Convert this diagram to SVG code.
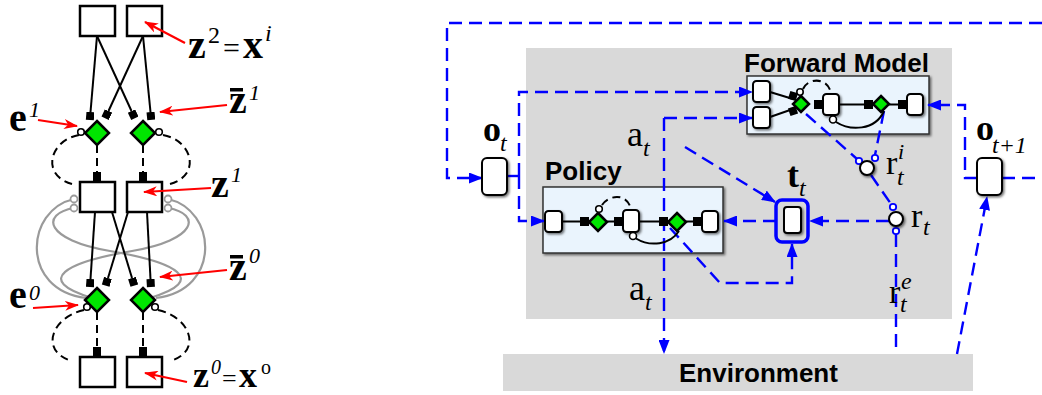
<svg xmlns="http://www.w3.org/2000/svg" width="1042" height="395" viewBox="0 0 1042 395">
<defs>
<style>
.bx{fill:#fff;stroke:#000;stroke-width:2.5}
.dm{fill:#00e600;stroke:#000;stroke-width:2.5}
.ln{stroke:#000;stroke-width:2;fill:none}
.lsq{stroke:#000;stroke-width:2;fill:none;marker-end:url(#sqm)}
.dk{stroke:#000;stroke-width:2;fill:none;stroke-dasharray:8 5}
.gr{stroke:#9a9a9a;stroke-width:2.2;fill:none}
.gc{fill:#fff;stroke:#9a9a9a;stroke-width:1.8}
.red{stroke:#f00;stroke-width:2.2;fill:none;marker-end:url(#ra)}
.bd{stroke:#00f;stroke-width:2.4;fill:none;stroke-dasharray:13 7}
.ba{marker-end:url(#ba)}
.sf{font-family:"Liberation Serif","Times New Roman",serif;fill:#000}
.b{font-weight:bold}
.i{font-style:italic}
.ss{font-family:"Liberation Sans",Arial,sans-serif;font-weight:bold;fill:#000}
.mb{fill:#eaf4fd;stroke:#333;stroke-width:1.5}
.rr{fill:#fff;stroke:#000;stroke-width:2}
.sc{fill:#fff;stroke:#000;stroke-width:1.6}
.bc{fill:#fff;stroke:#00f;stroke-width:1.8}
.nd{fill:#fff;stroke:#000;stroke-width:2}
</style>
<marker id="ra" markerUnits="userSpaceOnUse" markerWidth="14" markerHeight="10" refX="13" refY="5" orient="auto"><path d="M0,0 L14,5 L0,10 L4,5 z" fill="#f00"/></marker>
<marker id="ba" markerUnits="userSpaceOnUse" markerWidth="14" markerHeight="11" refX="13" refY="5.5" orient="auto"><path d="M0,0 L14,5.5 L0,11 z" fill="#00f"/></marker>
<marker id="sqm" markerUnits="userSpaceOnUse" markerWidth="9" markerHeight="9" refX="0" refY="4" orient="auto"><rect x="0" y="0" width="8" height="8" fill="#000"/></marker>
<filter id="sh" x="-30%" y="-30%" width="170%" height="170%"><feDropShadow dx="1.5" dy="1.5" stdDeviation="1" flood-color="#000" flood-opacity="0.55"/></filter>
</defs>
<rect width="1042" height="395" fill="#fff"/>

<!-- ===== Left diagram ===== -->
<g id="left-connectors">
  <path class="gr" d="M74,199 C25,210 20,290 86,298"/>
  <path class="gr" d="M74,208 C40,214 45,240 110,251 C175,262 210,280 150,298"/>
  <path class="gr" d="M168,199 C217,210 222,290 156,298"/>
  <path class="gr" d="M168,208 C202,214 197,240 132,251 C67,262 32,280 92,298"/>
  <path class="lsq" d="M97,36 L90.5,112"/>
  <path class="lsq" d="M97,36 L131.5,111"/>
  <path class="lsq" d="M143,36 L108.5,111"/>
  <path class="lsq" d="M143,36 L150.5,112"/>
  <path class="lsq" d="M95,212 L90.5,279"/>
  <path class="lsq" d="M112,212 L132,278"/>
  <path class="lsq" d="M128,212 L108,278"/>
  <path class="lsq" d="M147,212 L150.5,279"/>
  <path class="dk" d="M79,135 C50,140 40,175 72,184"/>
  <path class="dk" d="M163,135 C192,140 202,175 170,184"/>
  <path class="dk" d="M84,310 C50,318 40,352 72,361"/>
  <path class="dk" d="M158,310 C192,318 202,352 170,361"/>
  <path class="dk" d="M97,145 L97,172 M143,145 L143,172 M97,312 L97,348 M143,312 L143,348"/>
  <rect x="93" y="172" width="8" height="10" fill="#000"/>
  <rect x="139" y="172" width="8" height="10" fill="#000"/>
  <rect x="93" y="347" width="8" height="10" fill="#000"/>
  <rect x="139" y="347" width="8" height="10" fill="#000"/>
</g>
<g id="z2-left"><rect class="bx" x="80" y="6" width="35" height="30"/></g>
<g id="z2-right"><rect class="bx" x="127" y="6" width="35" height="30"/></g>
<g id="e1-left"><polygon class="dm" points="97,121 109,133 97,145 85,133"/><circle class="sc" cx="81" cy="132" r="3.3"/></g>
<g id="e1-right"><polygon class="dm" points="143,121 155,133 143,145 131,133"/><circle class="sc" cx="159" cy="132" r="3.3"/></g>
<g id="z1-left"><rect class="bx" x="80" y="182" width="35" height="30"/><circle class="gc" cx="74" cy="199" r="3.5"/><circle class="gc" cx="74" cy="208" r="3.5"/></g>
<g id="z1-right"><rect class="bx" x="127" y="182" width="35" height="30"/><circle class="gc" cx="168" cy="199" r="3.5"/><circle class="gc" cx="168" cy="208" r="3.5"/></g>
<g id="e0-left"><polygon class="dm" points="97,288 109,300 97,312 85,300"/><circle class="sc" cx="87" cy="307" r="3.3"/></g>
<g id="e0-right"><polygon class="dm" points="143,288 155,300 143,312 131,300"/><circle class="sc" cx="155" cy="307" r="3.3"/></g>
<g id="z0-left"><rect class="bx" x="80" y="357" width="35" height="30"/></g>
<g id="z0-right"><rect class="bx" x="127" y="357" width="35" height="30"/></g>

<g id="left-labels">
  <path class="red" d="M185,43 L145,22"/>
  <path class="red" d="M227,105 L160,112"/>
  <path class="red" d="M38,120 L77,126"/>
  <path class="red" d="M211,188 L144,192"/>
  <path class="red" d="M227,270 L160,277"/>
  <path class="red" d="M33,308 L78,305"/>
  <path class="red" d="M187,382 L145,373"/>
  <text class="sf b" x="188" y="58" font-size="40">z</text>
  <text class="sf" x="208" y="43" font-size="24">2</text>
  <text class="sf" x="223" y="58" font-size="30">=</text>
  <text class="sf b" x="243" y="58" font-size="40">x</text>
  <text class="sf i" x="265" y="41" font-size="24">i</text>

  <text class="sf b" x="229" y="113" font-size="40">z</text>
  <rect x="230" y="88" width="13" height="3.5" fill="#000"/>
  <text class="sf i" x="249" y="100" font-size="22">1</text>

  <text class="sf b" x="9" y="131" font-size="40">e</text>
  <text class="sf i" x="29" y="117" font-size="22">1</text>

  <text class="sf b" x="211" y="197" font-size="40">z</text>
  <text class="sf i" x="231" y="182" font-size="22">1</text>

  <text class="sf b" x="229" y="280" font-size="40">z</text>
  <rect x="230" y="255" width="13" height="3.5" fill="#000"/>
  <text class="sf i" x="249" y="263" font-size="22">0</text>

  <text class="sf b" x="9" y="308" font-size="40">e</text>
  <text class="sf i" x="29" y="300" font-size="22">0</text>

  <text class="sf b" x="193" y="387" font-size="36">z</text>
  <text class="sf i" x="211" y="374" font-size="20">0</text>
  <text class="sf" x="222" y="387" font-size="26">=</text>
  <text class="sf b" x="239" y="387" font-size="36">x</text>
  <text class="sf" x="261" y="374" font-size="20">o</text>
</g>

<!-- ===== Right diagram ===== -->
<g id="agent-bg"><rect x="526" y="48" width="426" height="271" fill="#d9d9d9"/></g>
<g id="environment">
  <rect x="503" y="354" width="470" height="37" fill="#d9d9d9"/>
  <text class="ss" x="679" y="382" font-size="26">Environment</text>
</g>
<g id="policy-frame">
  <rect class="mb" x="543" y="187" width="180" height="66" filter="url(#sh)"/>
  <text class="ss" x="545" y="180" font-size="26">Policy</text>
</g>
<g id="forward-model-frame">
  <rect class="mb" x="747" y="76" width="182" height="58" filter="url(#sh)"/>
  <text class="ss" x="744" y="72" font-size="26">Forward Model</text>
</g>

<g id="connectors">
  <path class="bd ba" d="M1042,23 L447,23 L447,178 L482,178"/>
  <path class="bd" d="M1002,178 L1042,178"/>
  <path d="M507,176 L519,176" stroke="#00f" stroke-width="2.4"/>
  <path class="bd ba" d="M519,176 L519,92 L752,92"/>
  <path class="bd ba" d="M519,176 L519,221 L544,221"/>
  <path class="bd ba" d="M664,118 L752,118"/>
  <path class="bd ba" d="M664,118 L664,353"/>
  <path class="bd ba" d="M685,147 L775,202"/>
  <path class="bd ba" d="M670,228 L720,283 L792,283 L792,244"/>
  <path class="bd ba" d="M889,221 L810,221"/>
  <path class="bd ba" d="M776,221 L724,221"/>
  <path class="bd" d="M806,114 L857,159"/>
  <path class="bd" d="M884,111 L875,155"/>
  <path class="bd" d="M871,175 L891,204"/>
  <path class="bd" d="M896,234 L896,354"/>
  <path class="bd ba" d="M957,354 L987,197"/>
  <path class="bd ba" d="M977,178 L965,178 L965,105 L928,105"/>
</g>

<g id="policy">
  <path class="ln" d="M562,221.5 L702,221.5"/>
  <rect class="rr" x="545" y="211" width="17" height="21" rx="3.5" filter="url(#sh)"/>
  <rect x="580" y="217" width="9" height="9" fill="#000"/>
  <polygon class="dm" points="598,213 607,222 598,231 589,222" stroke-width="2"/>
  <circle class="sc" cx="599" cy="209" r="3.3"/>
  <path class="dk" d="M602,205 C608,195 628,192 631,210"/>
  <rect x="614" y="217" width="9" height="9" fill="#000"/>
  <rect class="rr" x="623" y="210" width="16" height="22" rx="3.5" filter="url(#sh)"/>
  <circle class="sc" cx="633" cy="236" r="3.5"/>
  <path class="ln" d="M636,238.5 C650,247 670,245 679,231"/>
  <rect x="659" y="217" width="9" height="9" fill="#000"/>
  <polygon class="dm" points="677,213 686,222 677,231 668,222" stroke-width="2"/>
  <rect x="693" y="217" width="9" height="9" fill="#000"/>
  <rect class="rr" x="702" y="211" width="16" height="21" rx="3.5" filter="url(#sh)"/>
</g>

<g id="forward-model">
  <path class="ln" d="M770,92 L793,99 M770,117 L793,109 M839,104.5 L907,104.5"/>
  <rect class="rr" x="753" y="81" width="17" height="21" rx="3.5" filter="url(#sh)"/>
  <rect class="rr" x="753" y="107" width="17" height="21" rx="3.5" filter="url(#sh)"/>
  <rect x="789" y="92" width="8" height="8" fill="#000" transform="rotate(17 793 96)"/>
  <rect x="789" y="107" width="8" height="8" fill="#000" transform="rotate(-19 793 111)"/>
  <polygon class="dm" points="801,96 809,104 801,112 793,104" stroke-width="2"/>
  <circle class="sc" cx="800" cy="92" r="3.2"/>
  <path class="dk" d="M803,89 C808,77 830,77 831,95"/>
  <rect x="814" y="100" width="9" height="9" fill="#000"/>
  <rect class="rr" x="823" y="94" width="16" height="21" rx="3.5" filter="url(#sh)"/>
  <circle class="sc" cx="833" cy="119.5" r="3.5"/>
  <path class="ln" d="M836,122 C850,131 875,131 884,111"/>
  <rect x="864" y="100" width="9" height="9" fill="#000"/>
  <polygon class="dm" points="881,96 889,104 881,112 873,104" stroke-width="2"/>
  <rect x="898" y="100" width="9" height="9" fill="#000"/>
  <rect class="rr" x="907" y="94" width="16" height="21" rx="3.5" filter="url(#sh)"/>
</g>

<g id="o-t">
  <rect class="rr" x="482" y="158" width="25" height="37" rx="5" filter="url(#sh)"/>
  <text class="sf b" x="483" y="141" font-size="36">o</text>
  <text class="sf i" x="500" y="151" font-size="24">t</text>
</g>
<g id="o-t1">
  <rect class="rr" x="977" y="158" width="25" height="37" rx="5" filter="url(#sh)"/>
  <text class="sf b" x="976" y="140" font-size="36">o</text>
  <text class="sf i" x="992" y="153" font-size="24">t+1</text>
</g>
<g id="t-t">
  <rect x="776" y="200" width="32" height="42" rx="6" fill="#d9d9d9" stroke="#00f" stroke-width="3.5"/>
  <rect class="rr" x="784" y="207" width="17" height="26" rx="3" filter="url(#sh)"/>
  <text class="sf b" x="787" y="187" font-size="36">t</text>
  <text class="sf i" x="799" y="196" font-size="24">t</text>
</g>
<g id="r-t-i">
  <circle class="bc" cx="859" cy="161" r="3.2"/>
  <circle class="bc" cx="875" cy="158" r="3.2"/>
  <circle class="nd" cx="867" cy="168" r="7" filter="url(#sh)"/>
  <text class="sf" x="886" y="174" font-size="34">r</text>
  <text class="sf i" x="898" y="159" font-size="22">i</text>
  <text class="sf i" x="897" y="185" font-size="24">t</text>
</g>
<g id="r-t">
  <circle class="bc" cx="893" cy="207" r="3.2"/>
  <circle class="bc" cx="896" cy="231" r="3.2"/>
  <circle class="nd" cx="896" cy="219" r="7" filter="url(#sh)"/>
  <text class="sf" x="911" y="227" font-size="34">r</text>
  <text class="sf i" x="923" y="235" font-size="24">t</text>
</g>
<g id="labels-right">
  <text class="sf" x="627" y="146" font-size="36">a</text>
  <text class="sf i" x="643" y="156" font-size="24">t</text>
  <text class="sf" x="629" y="300" font-size="36">a</text>
  <text class="sf i" x="645" y="310" font-size="24">t</text>
  <text class="sf" x="889" y="303" font-size="34">r</text>
  <text class="sf i" x="901" y="289" font-size="24">e</text>
  <text class="sf i" x="900" y="312" font-size="24">t</text>
</g>
</svg>
